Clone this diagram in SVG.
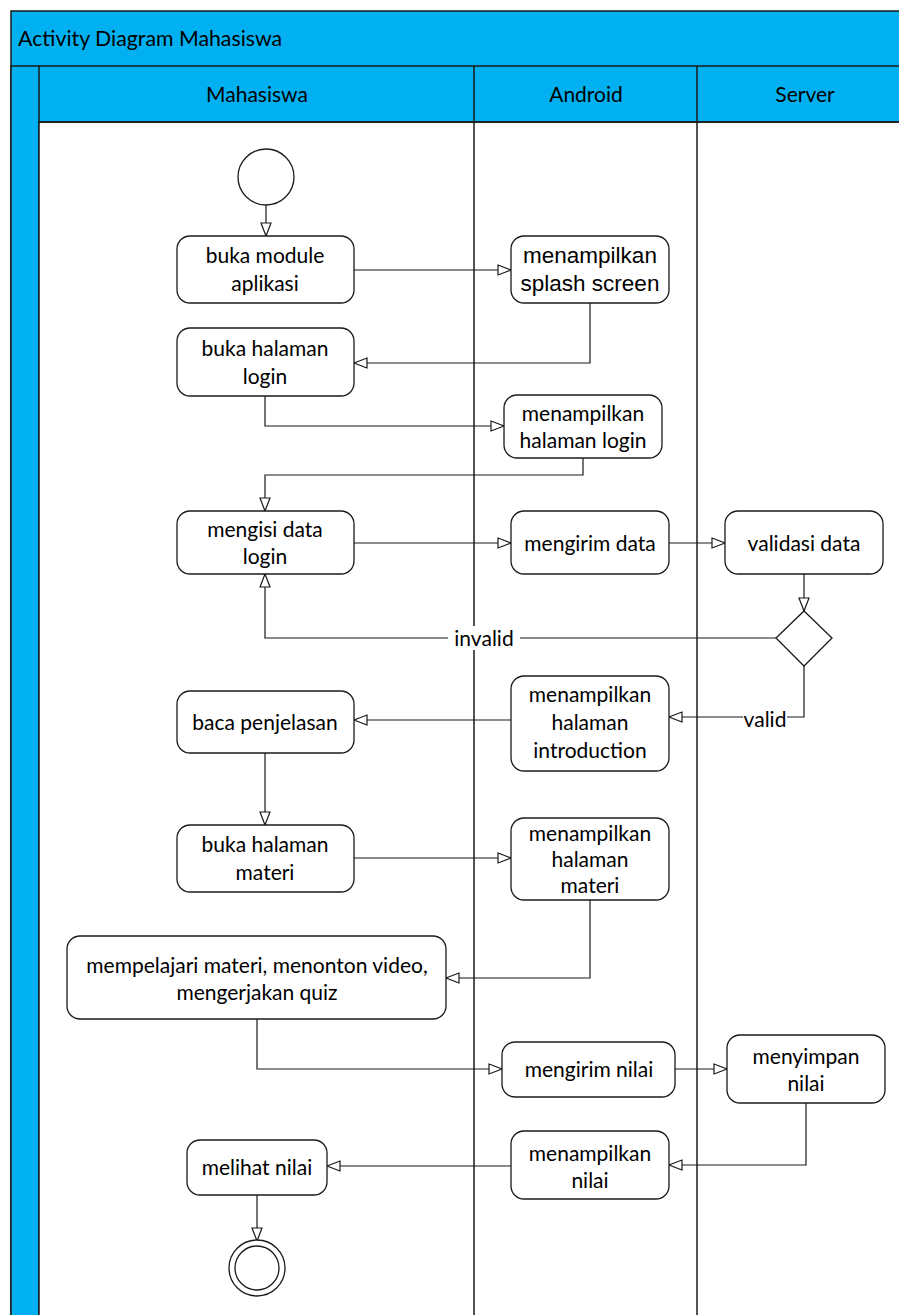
<svg xmlns="http://www.w3.org/2000/svg" width="899" height="1315" viewBox="0 0 899 1315">
<style>
.sw{fill:#00B0F0;stroke:#1a1a1a;stroke-width:1.5}
.ln{stroke:#1a1a1a;stroke-width:1.5;fill:none}
.nd{fill:#fff;stroke:#1a1a1a;stroke-width:1.3}
.t{font-family:Lato,"Open Sans",sans-serif;font-size:21px;fill:#000;text-anchor:middle}
.ta{font-family:"Liberation Sans",Arial,sans-serif;font-size:22.5px;fill:#000;text-anchor:middle}
.c{stroke:#1a1a1a;stroke-width:1.2;fill:none;marker-end:url(#a)}
.lb{font-family:Lato,"Open Sans",sans-serif;font-size:21px;fill:#000;text-anchor:middle}
</style>
<defs>
<marker id="a" markerUnits="userSpaceOnUse" markerWidth="16" markerHeight="14" refX="14" refY="6" orient="auto">
<path d="M1,1 L14,6 L1,11 Z" fill="#fff" stroke="#1a1a1a" stroke-width="1.2"/>
</marker>
</defs>
<rect width="899" height="1315" fill="#fff"/>
<g id="pool">
<rect class="sw" x="11" y="11" width="900" height="1320"/>
<rect class="sw" x="11" y="66" width="28" height="1260"/>
<rect x="39" y="122" width="870" height="1200" fill="#fff" stroke="#1a1a1a" stroke-width="1.5"/>
<line class="ln" x1="39" y1="66" x2="899" y2="66"/>
<line class="ln" x1="39" y1="122" x2="899" y2="122"/>
<line class="ln" x1="474" y1="66" x2="474" y2="1315"/>
<line class="ln" x1="697" y1="66" x2="697" y2="1315"/>
<text x="18" y="46" style="font-family:Lato,'Open Sans',sans-serif;font-size:21.3px">Activity Diagram Mahasiswa</text>
<text class="t" x="257" y="102">Mahasiswa</text>
<text class="t" x="586" y="102">Android</text>
<text class="t" x="805" y="102">Server</text>
</g>
<g id="connectors">
<path class="c" d="M266,205 V236"/>
<path class="c" d="M354,270 H511"/>
<path class="c" d="M590,303 V363 H354"/>
<path class="c" d="M265,396 V426 H504"/>
<path class="c" d="M583,458 V475 H265 V511"/>
<path class="c" d="M354,543 H511"/>
<path class="c" d="M669,543 H725"/>
<path class="c" d="M804,574 V611"/>
<path class="c" d="M776,638 H265 V574"/>
<path class="c" d="M804,666 V717 H669"/>
<path class="c" d="M511,720 H354"/>
<path class="c" d="M265,753 V825"/>
<path class="c" d="M354,858 H511"/>
<path class="c" d="M590,900 V978 H446"/>
<path class="c" d="M257,1019 V1069 H502"/>
<path class="c" d="M675,1069 H727"/>
<path class="c" d="M806,1103 V1165 H669"/>
<path class="c" d="M511,1166 H327"/>
<path class="c" d="M257,1195 V1241"/>
<rect x="448" y="626" width="72" height="24" fill="#fff"/>
<text class="lb" x="484" y="646">invalid</text>
<rect x="743" y="708" width="44" height="22" fill="#fff"/>
<text class="lb" x="765" y="727">valid</text>
</g>
<g id="start"><circle class="nd" cx="266" cy="177" r="28"/></g>
<g id="n1"><rect class="nd" x="177" y="236" width="177" height="67" rx="13"/><text class="t" x="265" y="263">buka module</text><text class="t" x="265" y="291">aplikasi</text></g>
<g id="n2"><rect class="nd" x="511" y="236" width="158" height="67" rx="13"/><text class="ta" x="590" y="263">menampilkan</text><text class="ta" x="590" y="291">splash screen</text></g>
<g id="n3"><rect class="nd" x="177" y="328" width="177" height="68" rx="13"/><text class="t" x="265" y="356">buka halaman</text><text class="t" x="265" y="384">login</text></g>
<g id="n4"><rect class="nd" x="504" y="395" width="158" height="63" rx="13"/><text class="t" x="583" y="421">menampilkan</text><text class="t" x="583" y="448">halaman login</text></g>
<g id="n5"><rect class="nd" x="177" y="511" width="177" height="63" rx="13"/><text class="t" x="265" y="537">mengisi data</text><text class="t" x="265" y="564">login</text></g>
<g id="n6"><rect class="nd" x="511" y="511" width="158" height="63" rx="13"/><text class="t" x="590" y="551">mengirim data</text></g>
<g id="n7"><rect class="nd" x="725" y="511" width="158" height="63" rx="13"/><text class="t" x="804" y="551">validasi data</text></g>
<g id="decision"><path class="nd" d="M804,611 L832,638 L804,666 L776,638 Z"/></g>
<g id="n8"><rect class="nd" x="511" y="676" width="158" height="95" rx="13"/><text class="t" x="590" y="702">menampilkan</text><text class="t" x="590" y="730">halaman</text><text class="t" x="590" y="758">introduction</text></g>
<g id="n9"><rect class="nd" x="177" y="691" width="177" height="62" rx="13"/><text class="t" x="265" y="730">baca penjelasan</text></g>
<g id="n10"><rect class="nd" x="177" y="825" width="177" height="67" rx="13"/><text class="t" x="265" y="852">buka halaman</text><text class="t" x="265" y="880">materi</text></g>
<g id="n11"><rect class="nd" x="511" y="818" width="158" height="82" rx="13"/><text class="t" x="590" y="841">menampilkan</text><text class="t" x="590" y="867">halaman</text><text class="t" x="590" y="893">materi</text></g>
<g id="n12"><rect class="nd" x="67" y="936" width="379" height="83" rx="13"/><text class="t" x="257" y="973">mempelajari materi, menonton video,</text><text class="t" x="257" y="1000">mengerjakan quiz</text></g>
<g id="n13"><rect class="nd" x="502" y="1042" width="173" height="55" rx="13"/><text class="t" x="589" y="1077">mengirim nilai</text></g>
<g id="n14"><rect class="nd" x="727" y="1035" width="158" height="68" rx="13"/><text class="t" x="806" y="1064">menyimpan</text><text class="t" x="806" y="1091">nilai</text></g>
<g id="n15"><rect class="nd" x="511" y="1131" width="158" height="68" rx="13"/><text class="t" x="590" y="1161">menampilkan</text><text class="t" x="590" y="1188">nilai</text></g>
<g id="n16"><rect class="nd" x="187" y="1140" width="140" height="55" rx="13"/><text class="t" x="257" y="1175">melihat nilai</text></g>
<g id="end"><circle class="nd" cx="257" cy="1268" r="28"/><circle class="nd" cx="257" cy="1268" r="22"/></g>
</svg>
